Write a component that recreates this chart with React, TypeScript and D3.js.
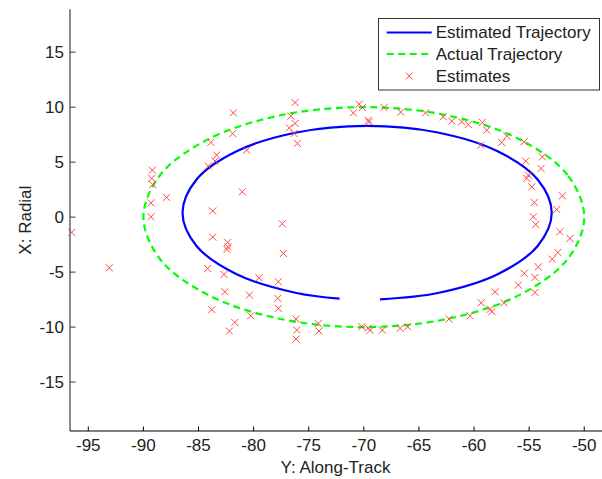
import React from "react";
import * as d3 from "d3";

const xTicks = [-95, -90, -85, -80, -75, -70, -65, -60, -55, -50];
const yTicks = [-15, -10, -5, 0, 5, 10, 15];

// Actual trajectory (dashed green)
const actualAlong = [-50, -51.52, -55.86, -62.35, -70, -77.65, -84.14, -88.48, -90, -88.48, -84.14, -77.65, -70, -62.35, -55.86, -51.52];
const actualRadial = [0, 3.83, 7.07, 9.24, 10, 9.24, 7.07, 3.83, 0, -3.83, -7.07, -9.24, -10, -9.24, -7.07, -3.83];

// Estimated trajectory (solid blue), open curve
const estAlong = [-68.53, -63.29, -57.86, -54.23, -52.95, -54.23, -57.86, -63.29, -69.7, -76.11, -81.54, -85.18, -86.45, -85.18, -81.54, -76.11, -72.2];
const estRadial = [-7.48, -6.9, -5.19, -2.62, 0.4, 3.42, 5.99, 7.7, 8.3, 7.7, 5.99, 3.42, 0.4, -2.62, -5.19, -6.9, -7.41];

// Estimates (red x markers)
const ptAlong = [-81.84, -81.9, -83.89, -83.35, -83.5, -84.11, -89.19, -89.25, -89.16, -87.89, -81.03, -89.31, -89.31, -83.71, -80.63,
  -96.5, -93.09, -83.71, -82.35, -82.35, -82.41, -84.17, -82.69, -82.62, -80.38, -83.8, -81.71, -82.2,
  -77.4, -77.3, -79.51, -77.76, -77.81, -77.76, -80.26, -76.15, -76.09, -76.15, -74.13, -74.07, -70.19, -69.6, -69.44, -68.32, -66.71, -66.02,
  -76.24, -76.63, -76.24, -76.76, -76.33, -76.03, -70.43, -70.13, -70.95, -69.59, -69.53, -68.17, -66.65, -64.4,
  -62.79, -62.02, -61.12, -60.52, -59.25, -58.85, -59.39, -57.03, -57.49, -55.46, -53.8, -55.31, -53.92, -55.07, -55.22, -54.76, -51.99, -54.53, -52.5, -54.62,
  -54.4, -52.2, -51.29, -52.4, -52.9, -54.17, -55.44, -54.47, -55.98, -54.47, -58.09, -59.36, -57.28, -58.55, -58.39, -60.36, -62.27];
const ptRadial = [9.48, 7.6, 6.79, 5.64, 5.1, 4.64, 4.27, 3.52, 2.97, 1.79, 2.3, 1.3, 0.03, 0.57, 6.09,
  -1.39, -4.61, -1.82, -2.3, -2.7, -2.94, -4.67, -5.21, -6.79, -7.09, -8.42, -9.58, -10.36,
  -0.6, -3.3, -5.52, -5.88, -7.39, -8.3, -8.97, -9.27, -10.27, -11.09, -9.67, -10.36, -9.97, -10.1, -10.3, -10.27, -10.12, -9.97,
  10.42, 9.18, 8.52, 8.12, 7.6, 6.7, 10.27, 9.97, 9.48, 8.82, 8.67, 9.97, 9.55, 9.48,
  9.12, 8.73, 8.67, 8.42, 8.61, 7.91, 6.55, 7.36, 6.79, 6.85, 5.48, 5.09, 4.42, 3.82, 3.52, 2.76, 1.94, 1.33, 0.7, 0.03,
  -0.67, -1.33, -1.94, -3.21, -3.82, -4.52, -5.12, -5.48, -6.18, -6.85, -6.79, -7.79, -7.79, -8.39, -8.6, -8.97, -9.27];

const legendLabels = ["Estimated Trajectory", "Actual Trajectory", "Estimates"];

const W = 602, H = 479;
const L = 70, R = 601, T = 9.3, B = 431;
const FONT = "'Liberation Sans', Arial, sans-serif";

export default function App() {
  const x = d3.scaleLinear().domain([-96.66, -48.48]).range([L, R]);
  const y = d3.scaleLinear().domain([-19.45, 18.9]).range([B, T]);

  const actualPts: [number, number][] = actualAlong.map((a, i) => [x(a), y(actualRadial[i])]);
  const estPts: [number, number][] = estAlong.map((a, i) => [x(a), y(estRadial[i])]);
  const closedLine = d3.line().curve(d3.curveCatmullRomClosed.alpha(0.5));
  const openLine = d3.line().curve(d3.curveCatmullRom.alpha(0.5));

  const red = "rgb(255,70,70)";
  const ms = 3.5;
  const xMark = (cx: number, cy: number, k: number) => (
    <path key={k} d={`M${cx - ms},${cy - ms}L${cx + ms},${cy + ms}M${cx - ms},${cy + ms}L${cx + ms},${cy - ms}`} stroke={red} strokeWidth={1} fill="none" />
  );

  const lgX = 378.5, lgY = 18.5, lgW = 221, lgH = 71.5;
  const rowY = [32.5, 54, 76];

  return (
    <svg width={W} height={H} style={{ position: "absolute", left: 0, top: 0, background: "#fff" }} fontFamily={FONT}>
      <rect x={0} y={0} width={W} height={H} fill="#fff" />
      <path d={closedLine(actualPts) || ""} fill="none" stroke="#00ff00" strokeWidth={2.2} strokeDasharray="7 4.5" />
      <path d={openLine(estPts) || ""} fill="none" stroke="#0000ff" strokeWidth={2.2} />
      {ptAlong.map((a, i) => xMark(x(a), y(ptRadial[i]), i))}

      {/* axes */}
      <line x1={L} x2={L} y1={T} y2={B} stroke="#666" strokeWidth={1.5} />
      <line x1={L} x2={R + 1} y1={B} y2={B} stroke="#000" strokeWidth={1} />
      {yTicks.map((t) => (
        <g key={"y" + t}>
          <line x1={L} x2={L + 5.5} y1={y(t)} y2={y(t)} stroke="#333" strokeWidth={1} />
          <text x={L - 6} y={y(t)} dy="0.35em" textAnchor="end" fontSize={17} fill="#222">{t}</text>
        </g>
      ))}
      {xTicks.map((t) => (
        <g key={"x" + t}>
          <line x1={x(t)} x2={x(t)} y1={B} y2={B - 4.5} stroke="#000" strokeWidth={1} />
          <text x={x(t)} y={451} textAnchor="middle" fontSize={17} fill="#222">{t}</text>
        </g>
      ))}
      <text x={(L + R) / 2} y={473} textAnchor="middle" fontSize={17} fill="#222">Y: Along-Track</text>
      <text transform={`translate(30.5,${(T + B) / 2}) rotate(-90)`} textAnchor="middle" fontSize={17} fill="#222">X: Radial</text>

      {/* legend */}
      <rect x={lgX} y={lgY} width={lgW} height={lgH} fill="#fff" stroke="#333" strokeWidth={1} />
      <line x1={386.7} x2={431.7} y1={rowY[0]} y2={rowY[0]} stroke="#0000ff" strokeWidth={2.2} />
      <line x1={386.7} x2={431.7} y1={rowY[1]} y2={rowY[1]} stroke="#00ff00" strokeWidth={2.2} strokeDasharray="7 4.5" />
      {xMark(409.2, rowY[2], 999)}
      {legendLabels.map((s, i) => (
        <text key={s} x={435.7} y={rowY[i]} dy="0.35em" fontSize={17} fill="#222">{s}</text>
      ))}
    </svg>
  );
}
